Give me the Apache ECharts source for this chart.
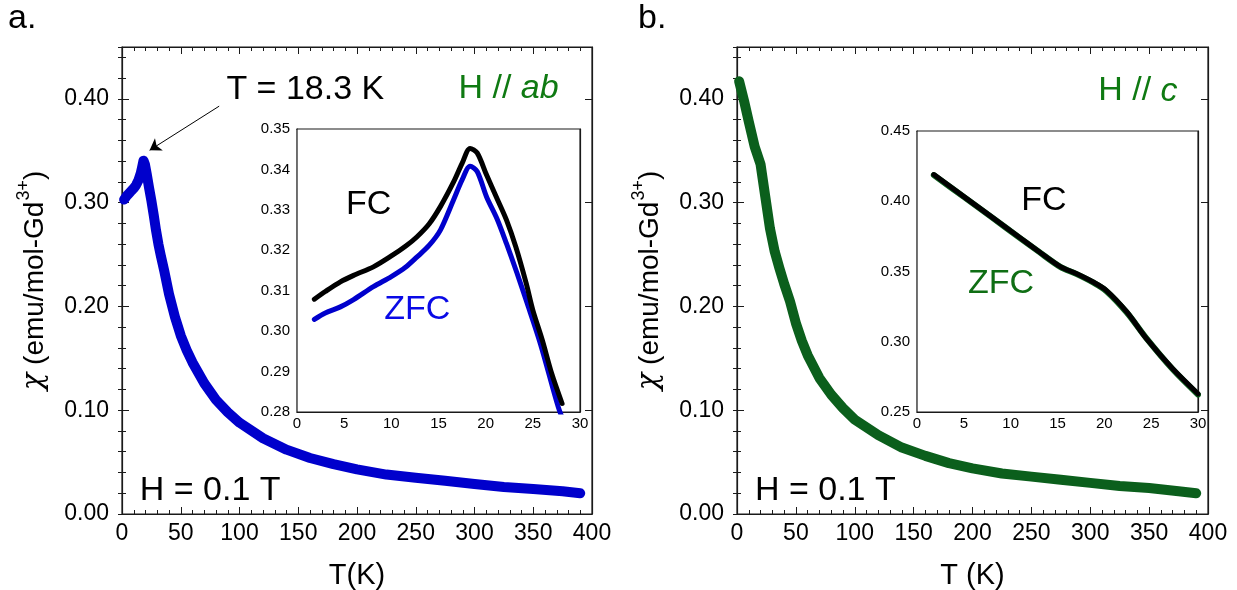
<!DOCTYPE html>
<html>
<head>
<meta charset="utf-8">
<script src="https://cdn.jsdelivr.net/npm/echarts@6/dist/echarts.min.js"></script>
<style>html,body{margin:0;padding:0;background:#fff}#c{width:1237px;height:590px}</style>
</head>
<body>
<div id="c"></div>
<script>
// ---------- DATA ----------
// Panel a: H // ab, main curve (ZFC)
const T_A_MAIN   = [1.8, 4, 6, 8, 10, 12, 14, 16, 17, 18.3, 19.5, 21, 23, 25, 27, 29, 31, 33, 36, 40, 45, 50, 55, 60, 70, 80, 90, 100, 120, 140, 160, 180, 200, 225, 250, 275, 300, 325, 350, 375, 390];
const CHI_A_MAIN = [0.303, 0.3065, 0.309, 0.3115, 0.3138, 0.317, 0.3215, 0.3285, 0.3335, 0.3405, 0.337, 0.328, 0.3145, 0.302, 0.288, 0.273, 0.260, 0.249, 0.234, 0.212, 0.190, 0.172, 0.158, 0.146, 0.126, 0.110, 0.098, 0.088, 0.073, 0.062, 0.054, 0.048, 0.043, 0.038, 0.035, 0.032, 0.029, 0.026, 0.024, 0.022, 0.020];
// Panel a inset
const T_A_FC    = [1.84, 3, 4.6, 6, 8.1, 10, 11.5, 12.7, 14, 15.2, 16.6, 17.5, 18.35, 19.1, 20.1, 21.2, 22.2, 23.2, 24.3, 25, 26, 27, 28.1];
const CHI_A_FC  = [0.3079, 0.3098, 0.3122, 0.3138, 0.3159, 0.3186, 0.321, 0.3233, 0.3265, 0.3308, 0.3369, 0.3415, 0.3452, 0.3441, 0.3386, 0.3328, 0.3275, 0.3208, 0.3118, 0.3052, 0.2978, 0.2895, 0.2821];
const T_A_ZFC   = [1.84, 3, 4.6, 6, 8.1, 10, 11.5, 12.7, 14, 15.2, 16.6, 17.5, 18.35, 19.1, 20.1, 21.2, 22.2, 23.3, 24.4, 25.8, 27.7, 28.3];
const CHI_A_ZFC = [0.3029, 0.3045, 0.306, 0.3078, 0.311, 0.3135, 0.3158, 0.3183, 0.3212, 0.325, 0.3325, 0.3374, 0.3408, 0.3395, 0.3332, 0.3278, 0.3217, 0.3145, 0.3069, 0.2969, 0.2812, 0.2775];
// Panel b: H // c, main curve
const T_B_MAIN   = [1.8, 6, 10, 15, 20, 24, 28, 32, 36, 40, 45, 50, 55, 60, 70, 80, 90, 100, 120, 140, 160, 180, 200, 225, 250, 275, 300, 325, 350, 375, 390];
const CHI_B_MAIN = [0.417, 0.398, 0.378, 0.354, 0.337, 0.306, 0.275, 0.253, 0.237, 0.222, 0.205, 0.184, 0.167, 0.153, 0.131, 0.115, 0.102, 0.091, 0.076, 0.064, 0.056, 0.049, 0.044, 0.039, 0.036, 0.033, 0.030, 0.027, 0.025, 0.022, 0.020];
// Panel b inset
const T_B_FC    = [1.8, 5, 8, 11, 13, 15.3, 17, 18.8, 20.2, 22.4, 24.5, 27.3, 30];
const CHI_B_FC  = [0.419, 0.4033, 0.3887, 0.374, 0.3643, 0.3535, 0.3485, 0.3425, 0.3366, 0.3212, 0.3022, 0.2808, 0.263];
const T_B_ZFC   = [1.8, 5, 8, 11, 13, 15.3, 17, 18.8, 20.2, 22.4, 24.5, 27.3, 30];
const CHI_B_ZFC = [0.4186, 0.4031, 0.3885, 0.3738, 0.3641, 0.3533, 0.3483, 0.3422, 0.3362, 0.3208, 0.3024, 0.2804, 0.2624];

// ---------- helpers ----------
const zip = (a, b) => a.map((v, i) => [v, b[i]]);
const FONT = '"Liberation Sans", Arial, sans-serif';
const AX = '#1a1a1a';
const BLUE = '#0000cc', GREEN_LINE = '#0b5f1c', GREEN_TXT = '#0f7a12';

function xPair(g, o) {
  const base = {
    type: 'value', gridIndex: g, min: o.min, max: o.max, interval: o.interval,
    axisLine: { show: true, onZero: false, lineStyle: { color: AX, width: 1.2 } },
    axisTick: { show: true, inside: true, length: o.tl, lineStyle: { color: AX, width: 1 } },
    minorTick: { show: true, splitNumber: o.split, length: o.ml, lineStyle: { color: AX, width: 1 } },
    splitLine: { show: false }, minorSplitLine: { show: false }
  };
  return [
    Object.assign({}, base, {
      position: 'bottom',
      axisLabel: { show: true, fontSize: o.fs, color: '#000', margin: o.margin, fontFamily: FONT },
      name: o.name || '', nameLocation: 'middle', nameGap: o.nameGap || 0,
      nameTextStyle: { fontSize: o.nameFs || 12, color: '#000', fontFamily: FONT }
    }),
    Object.assign({}, base, { position: 'top', axisLabel: { show: false } })
  ];
}

function yLeftRight(g, o) {
  const base = {
    type: 'value', gridIndex: g, min: o.min, max: o.max, interval: o.interval,
    axisLine: { show: true, onZero: false, lineStyle: { color: AX, width: 1.2 } },
    axisTick: { show: true, inside: true, length: o.tl, lineStyle: { color: AX, width: 1 } },
    minorTick: { show: !!o.split, splitNumber: o.split || 5, length: o.ml, lineStyle: { color: AX, width: 1 } },
    splitLine: { show: false }, minorSplitLine: { show: false }
  };
  const arr = [
    Object.assign({}, base, {
      position: 'left',
      axisLabel: { show: true, fontSize: o.fs, color: '#000', margin: o.margin, fontFamily: FONT,
        formatter: v => (Math.abs(v - o.hideLabel) < 1e-9 ? '' : v.toFixed(2)) },
      name: o.name || '', nameLocation: 'middle', nameGap: o.nameGap || 0,
      nameTextStyle: o.nameStyle || {}
    }),
    Object.assign({}, base, { position: 'right', axisLabel: { show: false } })
  ];
  if (o.minorInterval) {
    const mb = {
      type: 'value', gridIndex: g, min: o.min, max: o.max, interval: o.minorInterval,
      axisLine: { show: false }, axisLabel: { show: false }, splitLine: { show: false },
      axisTick: { show: true, inside: true, length: o.ml, lineStyle: { color: AX, width: 1 } }
    };
    arr.push(Object.assign({}, mb, { position: 'left' }));
    arr.push(Object.assign({}, mb, { position: 'right' }));
  }
  return arr;
}

const yNameStyle = {
  color: '#000', fontFamily: FONT,
  rich: {
    g: { fontSize: 29, color: '#000', fontFamily: '"DejaVu Serif", serif', fontStyle: 'italic', lineHeight: 34, verticalAlign: 'bottom' },
    a: { fontSize: 28, color: '#000', fontFamily: FONT, lineHeight: 34, verticalAlign: 'bottom' },
    s: { fontSize: 18, color: '#000', fontFamily: FONT, lineHeight: 34, verticalAlign: 'top', padding: [0, 0, 0, 1] }
  }
};
const yName = '{g|χ}{a| (emu/mol-Gd}{s|3+}{a|)}';

// grids: 0 left main, 1 left inset, 2 right main, 3 right inset
const FRAME = { show: true, borderColor: AX, borderWidth: 1.2, backgroundColor: '#fff', containLabel: false, outerBoundsMode: 'none' };
const grids = [
  Object.assign({ left: 122, top: 47, width: 470, height: 467 }, FRAME),
  Object.assign({ left: 297, top: 129, width: 283, height: 283, z: 5 }, FRAME),
  Object.assign({ left: 737, top: 47, width: 471, height: 467 }, FRAME),
  Object.assign({ left: 917, top: 131, width: 281, height: 281, z: 5 }, FRAME)
];

const xAxes = [].concat(
  xPair(0, { min: 0, max: 400, interval: 50, split: 5, tl: 7, ml: 4, fs: 23, margin: 8, name: 'T(K)', nameGap: 47, nameFs: 29 }),
  xPair(1, { min: 0, max: 30, interval: 5, split: 5, tl: 5, ml: 3, fs: 15, margin: 4 }),
  xPair(2, { min: 0, max: 400, interval: 50, split: 5, tl: 7, ml: 4, fs: 23, margin: 8, name: 'T (K)', nameGap: 47, nameFs: 29 }),
  xPair(3, { min: 0, max: 30, interval: 5, split: 5, tl: 5, ml: 3, fs: 15, margin: 4 })
);

const yA = yLeftRight(0, { min: 0, max: 0.45, interval: 0.1, minorInterval: 0.02, tl: 7, ml: 4, fs: 23, margin: 13, hideLabel: 0.45, name: yName, nameGap: 73, nameStyle: yNameStyle });
const yAi = yLeftRight(1, { min: 0.28, max: 0.35, interval: 0.01, split: 2, tl: 5, ml: 3, fs: 15, margin: 7, hideLabel: -1 });
const yB = yLeftRight(2, { min: 0, max: 0.45, interval: 0.1, minorInterval: 0.02, tl: 7, ml: 4, fs: 23, margin: 13, hideLabel: 0.45, name: yName, nameGap: 73, nameStyle: yNameStyle });
const yBi = yLeftRight(3, { min: 0.25, max: 0.45, interval: 0.05, split: 5, tl: 5, ml: 3, fs: 15, margin: 7, hideLabel: -1 });
const yAxes = [].concat(yA, yAi, yB, yBi);
const yIdx = { a: 0, ai: yA.length, b: yA.length + yAi.length, bi: yA.length + yAi.length + yB.length };

function curve(xi, yi, data, color, width, z, smooth) {
  return {
    type: 'line', xAxisIndex: xi, yAxisIndex: yi, data: data, showSymbol: false, symbol: 'none',
    smooth: smooth, lineStyle: { color: color, width: width, cap: 'round', join: 'round' }, z: z || 2, silent: true
  };
}

function note(xi, yi, pt, text, style) {
  return {
    type: 'scatter', xAxisIndex: xi, yAxisIndex: yi, symbolSize: 0, silent: true, z: 20,
    itemStyle: { opacity: 1 },
    data: [{ value: pt, label: Object.assign({ show: true, position: 'inside', formatter: text, fontFamily: FONT, textBorderWidth: 0, opacity: 1 }, style) }]
  };
}

const mainA = curve(0, yIdx.a, zip(T_A_MAIN, CHI_A_MAIN), BLUE, 10, 3, false);
mainA.markLine = {
  silent: true, animation: false, symbol: ['none', 'arrow'], symbolSize: 11,
  label: { show: false }, lineStyle: { color: '#000', width: 1, type: 'solid' },
  data: [[{ coord: [82.7, 0.393] }, { coord: [23.5, 0.3505] }]]
};

const richHab = () => ({ rich: {
  n: { fontSize: 34, color: GREEN_TXT, fontFamily: FONT },
  i: { fontSize: 34, color: GREEN_TXT, fontStyle: 'italic', fontFamily: FONT } } });

const series = [
  mainA,
  curve(2, yIdx.ai, zip(T_A_ZFC, CHI_A_ZFC), BLUE, 5, 10, 0.3),
  curve(2, yIdx.ai, zip(T_A_FC, CHI_A_FC), '#000', 5, 11, 0.3),
  curve(4, yIdx.b, zip(T_B_MAIN, CHI_B_MAIN), GREEN_LINE, 10, 3, false),
  curve(6, yIdx.bi, zip(T_B_ZFC, CHI_B_ZFC), GREEN_LINE, 6, 10, 0.3),
  curve(6, yIdx.bi, zip(T_B_FC, CHI_B_FC), '#000', 5, 11, 0.3),
  note(0, yIdx.a, [156, 0.409], 'T = 18.3 K', { fontSize: 34, color: '#000' }),
  note(0, yIdx.a, [329, 0.410], '{n|H // }{i|ab}', richHab()),
  note(0, yIdx.a, [75, 0.023], 'H = 0.1 T', { fontSize: 34, color: '#000' }),
  note(2, yIdx.ai, [7.6, 0.3312], 'FC', { fontSize: 34, color: '#000' }),
  note(2, yIdx.ai, [12.75, 0.3052], 'ZFC', { fontSize: 34, color: '#0a0ae6' }),
  note(4, yIdx.b, [340.5, 0.4075], '{n|H // }{i|c}', richHab()),
  note(4, yIdx.b, [75, 0.023], 'H = 0.1 T', { fontSize: 34, color: '#000' }),
  note(6, yIdx.bi, [13.56, 0.4007], 'FC', { fontSize: 34, color: '#000' }),
  note(6, yIdx.bi, [8.96, 0.3414], 'ZFC', { fontSize: 34, color: '#0f6e14' })
];

const chart = echarts.init(document.getElementById('c'), null, { renderer: 'canvas' });
chart.setOption({
  animation: false,
  backgroundColor: '#fff',
  grid: grids,
  xAxis: xAxes,
  yAxis: yAxes,
  series: series,
  graphic: [
    { type: 'text', left: 8, top: 2, style: { text: 'a.', font: '34px ' + FONT, fill: '#000' } },
    { type: 'text', left: 638, top: 2, style: { text: 'b.', font: '34px ' + FONT, fill: '#000' } }
  ]
});
</script>
</body>
</html>
